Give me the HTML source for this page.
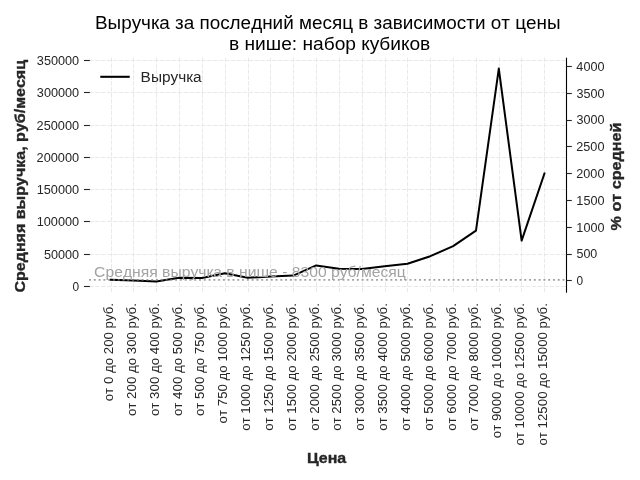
<!DOCTYPE html><html><head><meta charset="utf-8"><style>html,body{margin:0;padding:0;background:#fff;width:640px;height:480px;overflow:hidden}svg{display:block;will-change:transform}text{font-family:"Liberation Sans",sans-serif;font-kerning:none}</style></head><body>
<svg width="640" height="480" viewBox="0 0 640 480">
<rect width="640" height="480" fill="#fff"/>
<g stroke="#e6e6e6" stroke-width="0.9" stroke-dasharray="4.4,1.5" fill="none"><line x1="89.3" y1="286.50" x2="566.5" y2="286.50"/><line x1="89.3" y1="254.50" x2="566.5" y2="254.50"/><line x1="89.3" y1="221.50" x2="566.5" y2="221.50"/><line x1="89.3" y1="189.50" x2="566.5" y2="189.50"/><line x1="89.3" y1="157.50" x2="566.5" y2="157.50"/><line x1="89.3" y1="125.50" x2="566.5" y2="125.50"/><line x1="89.3" y1="92.50" x2="566.5" y2="92.50"/><line x1="89.3" y1="60.50" x2="566.5" y2="60.50"/><line x1="111.50" y1="57.7" x2="111.50" y2="292.7"/><line x1="133.50" y1="57.7" x2="133.50" y2="292.7"/><line x1="156.50" y1="57.7" x2="156.50" y2="292.7"/><line x1="179.50" y1="57.7" x2="179.50" y2="292.7"/><line x1="202.50" y1="57.7" x2="202.50" y2="292.7"/><line x1="225.50" y1="57.7" x2="225.50" y2="292.7"/><line x1="248.50" y1="57.7" x2="248.50" y2="292.7"/><line x1="270.50" y1="57.7" x2="270.50" y2="292.7"/><line x1="293.50" y1="57.7" x2="293.50" y2="292.7"/><line x1="316.50" y1="57.7" x2="316.50" y2="292.7"/><line x1="339.50" y1="57.7" x2="339.50" y2="292.7"/><line x1="362.50" y1="57.7" x2="362.50" y2="292.7"/><line x1="385.50" y1="57.7" x2="385.50" y2="292.7"/><line x1="407.50" y1="57.7" x2="407.50" y2="292.7"/><line x1="430.50" y1="57.7" x2="430.50" y2="292.7"/><line x1="453.50" y1="57.7" x2="453.50" y2="292.7"/><line x1="476.50" y1="57.7" x2="476.50" y2="292.7"/><line x1="499.50" y1="57.7" x2="499.50" y2="292.7"/><line x1="521.50" y1="57.7" x2="521.50" y2="292.7"/><line x1="544.50" y1="57.7" x2="544.50" y2="292.7"/></g>
<g stroke="#262626" stroke-width="1.1"><line x1="83.9" y1="286.50" x2="89.9" y2="286.50"/><line x1="83.9" y1="254.50" x2="89.9" y2="254.50"/><line x1="83.9" y1="221.50" x2="89.9" y2="221.50"/><line x1="83.9" y1="189.50" x2="89.9" y2="189.50"/><line x1="83.9" y1="157.50" x2="89.9" y2="157.50"/><line x1="83.9" y1="125.50" x2="89.9" y2="125.50"/><line x1="83.9" y1="92.50" x2="89.9" y2="92.50"/><line x1="83.9" y1="60.50" x2="89.9" y2="60.50"/></g>
<text x="72.52" y="291.05" font-size="11.93" fill="#262626" textLength="6.60" lengthAdjust="spacingAndGlyphs">0</text>
<text x="43.97" y="258.77" font-size="11.93" fill="#262626" textLength="35.17" lengthAdjust="spacingAndGlyphs">50000</text>
<text x="36.72" y="226.49" font-size="11.93" fill="#262626" textLength="42.43" lengthAdjust="spacingAndGlyphs">100000</text>
<text x="36.72" y="194.21" font-size="11.93" fill="#262626" textLength="42.43" lengthAdjust="spacingAndGlyphs">150000</text>
<text x="36.64" y="161.93" font-size="11.93" fill="#262626" textLength="42.51" lengthAdjust="spacingAndGlyphs">200000</text>
<text x="36.64" y="129.65" font-size="11.93" fill="#262626" textLength="42.51" lengthAdjust="spacingAndGlyphs">250000</text>
<text x="36.83" y="97.37" font-size="11.93" fill="#262626" textLength="42.32" lengthAdjust="spacingAndGlyphs">300000</text>
<text x="36.83" y="65.09" font-size="11.93" fill="#262626" textLength="42.32" lengthAdjust="spacingAndGlyphs">350000</text>
<line x1="566.5" y1="57.7" x2="566.5" y2="292.7" stroke="#000" stroke-width="1.1"/>
<g stroke="#262626" stroke-width="1.1"><line x1="566.5" y1="280.50" x2="571.8" y2="280.50"/><line x1="566.5" y1="254.50" x2="571.8" y2="254.50"/><line x1="566.5" y1="227.50" x2="571.8" y2="227.50"/><line x1="566.5" y1="200.50" x2="571.8" y2="200.50"/><line x1="566.5" y1="173.50" x2="571.8" y2="173.50"/><line x1="566.5" y1="146.50" x2="571.8" y2="146.50"/><line x1="566.5" y1="120.50" x2="571.8" y2="120.50"/><line x1="566.5" y1="93.50" x2="571.8" y2="93.50"/><line x1="566.5" y1="66.50" x2="571.8" y2="66.50"/></g>
<text x="576.38" y="285.10" font-size="11.93" fill="#262626" textLength="6.60" lengthAdjust="spacingAndGlyphs">0</text>
<text x="576.47" y="258.30" font-size="11.93" fill="#262626" textLength="20.85" lengthAdjust="spacingAndGlyphs">500</text>
<text x="576.37" y="231.50" font-size="11.93" fill="#262626" textLength="28.10" lengthAdjust="spacingAndGlyphs">1000</text>
<text x="576.37" y="204.70" font-size="11.93" fill="#262626" textLength="28.10" lengthAdjust="spacingAndGlyphs">1500</text>
<text x="576.29" y="177.90" font-size="11.93" fill="#262626" textLength="28.19" lengthAdjust="spacingAndGlyphs">2000</text>
<text x="576.29" y="151.10" font-size="11.93" fill="#262626" textLength="28.19" lengthAdjust="spacingAndGlyphs">2500</text>
<text x="576.48" y="124.30" font-size="11.93" fill="#262626" textLength="28.00" lengthAdjust="spacingAndGlyphs">3000</text>
<text x="576.48" y="97.50" font-size="11.93" fill="#262626" textLength="28.00" lengthAdjust="spacingAndGlyphs">3500</text>
<text x="576.36" y="70.70" font-size="11.93" fill="#262626" textLength="28.12" lengthAdjust="spacingAndGlyphs">4000</text>
<polyline points="110.70,279.70 133.53,280.40 156.36,281.60 179.19,277.80 202.02,277.90 224.85,273.20 247.68,277.80 270.51,276.60 293.34,275.60 316.17,265.40 339.00,268.70 361.83,269.00 384.66,266.30 407.49,263.70 430.32,256.20 453.15,246.10 475.98,230.60 498.81,68.60 521.64,240.60 544.47,173.40" fill="none" stroke="#000" stroke-width="2.0" stroke-linejoin="round" stroke-linecap="square"/>
<line x1="89.05" y1="279.9" x2="566.5" y2="279.9" stroke="#808080" stroke-opacity="0.75" stroke-width="1.9" stroke-dasharray="1.9,2.883"/>
<text x="94.10" y="276.75" font-size="14.58" fill="#a3a3a3" textLength="311.66" lengthAdjust="spacingAndGlyphs">Средняя выручка в нише - 8300 руб/месяц</text>
<line x1="101.3" y1="76.8" x2="128.7" y2="76.8" stroke="#000" stroke-width="2.08" stroke-linecap="square"/>
<text x="140.64" y="81.60" font-size="14.58" fill="#262626" textLength="60.96" lengthAdjust="spacingAndGlyphs">Выручка</text>
<text transform="translate(113.05,0) rotate(-90)" x="-401.28" y="0" font-size="12.18" fill="#262626" textLength="98.19" lengthAdjust="spacingAndGlyphs">от 0 до 200 руб.</text>
<text transform="translate(135.88,0) rotate(-90)" x="-416.04" y="0" font-size="12.18" fill="#262626" textLength="112.95" lengthAdjust="spacingAndGlyphs">от 200 до 300 руб.</text>
<text transform="translate(158.71,0) rotate(-90)" x="-416.04" y="0" font-size="12.18" fill="#262626" textLength="112.95" lengthAdjust="spacingAndGlyphs">от 300 до 400 руб.</text>
<text transform="translate(181.54,0) rotate(-90)" x="-416.04" y="0" font-size="12.18" fill="#262626" textLength="112.95" lengthAdjust="spacingAndGlyphs">от 400 до 500 руб.</text>
<text transform="translate(204.37,0) rotate(-90)" x="-416.04" y="0" font-size="12.18" fill="#262626" textLength="112.95" lengthAdjust="spacingAndGlyphs">от 500 до 750 руб.</text>
<text transform="translate(227.20,0) rotate(-90)" x="-423.42" y="0" font-size="12.18" fill="#262626" textLength="120.33" lengthAdjust="spacingAndGlyphs">от 750 до 1000 руб.</text>
<text transform="translate(250.03,0) rotate(-90)" x="-430.80" y="0" font-size="12.18" fill="#262626" textLength="127.71" lengthAdjust="spacingAndGlyphs">от 1000 до 1250 руб.</text>
<text transform="translate(272.86,0) rotate(-90)" x="-430.80" y="0" font-size="12.18" fill="#262626" textLength="127.71" lengthAdjust="spacingAndGlyphs">от 1250 до 1500 руб.</text>
<text transform="translate(295.69,0) rotate(-90)" x="-430.80" y="0" font-size="12.18" fill="#262626" textLength="127.71" lengthAdjust="spacingAndGlyphs">от 1500 до 2000 руб.</text>
<text transform="translate(318.52,0) rotate(-90)" x="-430.80" y="0" font-size="12.18" fill="#262626" textLength="127.71" lengthAdjust="spacingAndGlyphs">от 2000 до 2500 руб.</text>
<text transform="translate(341.35,0) rotate(-90)" x="-430.80" y="0" font-size="12.18" fill="#262626" textLength="127.71" lengthAdjust="spacingAndGlyphs">от 2500 до 3000 руб.</text>
<text transform="translate(364.18,0) rotate(-90)" x="-430.80" y="0" font-size="12.18" fill="#262626" textLength="127.71" lengthAdjust="spacingAndGlyphs">от 3000 до 3500 руб.</text>
<text transform="translate(387.01,0) rotate(-90)" x="-430.80" y="0" font-size="12.18" fill="#262626" textLength="127.71" lengthAdjust="spacingAndGlyphs">от 3500 до 4000 руб.</text>
<text transform="translate(409.84,0) rotate(-90)" x="-430.80" y="0" font-size="12.18" fill="#262626" textLength="127.71" lengthAdjust="spacingAndGlyphs">от 4000 до 5000 руб.</text>
<text transform="translate(432.67,0) rotate(-90)" x="-430.80" y="0" font-size="12.18" fill="#262626" textLength="127.71" lengthAdjust="spacingAndGlyphs">от 5000 до 6000 руб.</text>
<text transform="translate(455.50,0) rotate(-90)" x="-430.80" y="0" font-size="12.18" fill="#262626" textLength="127.71" lengthAdjust="spacingAndGlyphs">от 6000 до 7000 руб.</text>
<text transform="translate(478.33,0) rotate(-90)" x="-430.80" y="0" font-size="12.18" fill="#262626" textLength="127.71" lengthAdjust="spacingAndGlyphs">от 7000 до 8000 руб.</text>
<text transform="translate(501.16,0) rotate(-90)" x="-438.18" y="0" font-size="12.18" fill="#262626" textLength="135.09" lengthAdjust="spacingAndGlyphs">от 9000 до 10000 руб.</text>
<text transform="translate(523.99,0) rotate(-90)" x="-445.56" y="0" font-size="12.18" fill="#262626" textLength="142.47" lengthAdjust="spacingAndGlyphs">от 10000 до 12500 руб.</text>
<text transform="translate(546.82,0) rotate(-90)" x="-445.56" y="0" font-size="12.18" fill="#262626" textLength="142.47" lengthAdjust="spacingAndGlyphs">от 12500 до 15000 руб.</text>
<text x="94.95" y="28.70" font-size="17.50" fill="#000" textLength="465.56" lengthAdjust="spacingAndGlyphs">Выручка за последний месяц в зависимости от цены</text>
<text x="228.97" y="49.60" font-size="17.50" fill="#000" textLength="201.26" lengthAdjust="spacingAndGlyphs">в нише: набор кубиков</text>
<text x="307.13" y="462.60" font-size="14.58" font-weight="bold" stroke="#262626" stroke-width="0.35" fill="#262626" textLength="39.07" lengthAdjust="spacingAndGlyphs">Цена</text>
<text transform="translate(24.90,0) rotate(-90)" x="-292.56" y="0" font-size="14.58" font-weight="bold" stroke="#262626" stroke-width="0.35" fill="#262626" textLength="232.61" lengthAdjust="spacingAndGlyphs">Средняя выручка, руб/месяц</text>
<text transform="translate(620.80,0) rotate(-90)" x="-230.40" y="0" font-size="14.58" font-weight="bold" stroke="#262626" stroke-width="0.35" fill="#262626" textLength="107.77" lengthAdjust="spacingAndGlyphs">% от средней</text>
</svg></body></html>
